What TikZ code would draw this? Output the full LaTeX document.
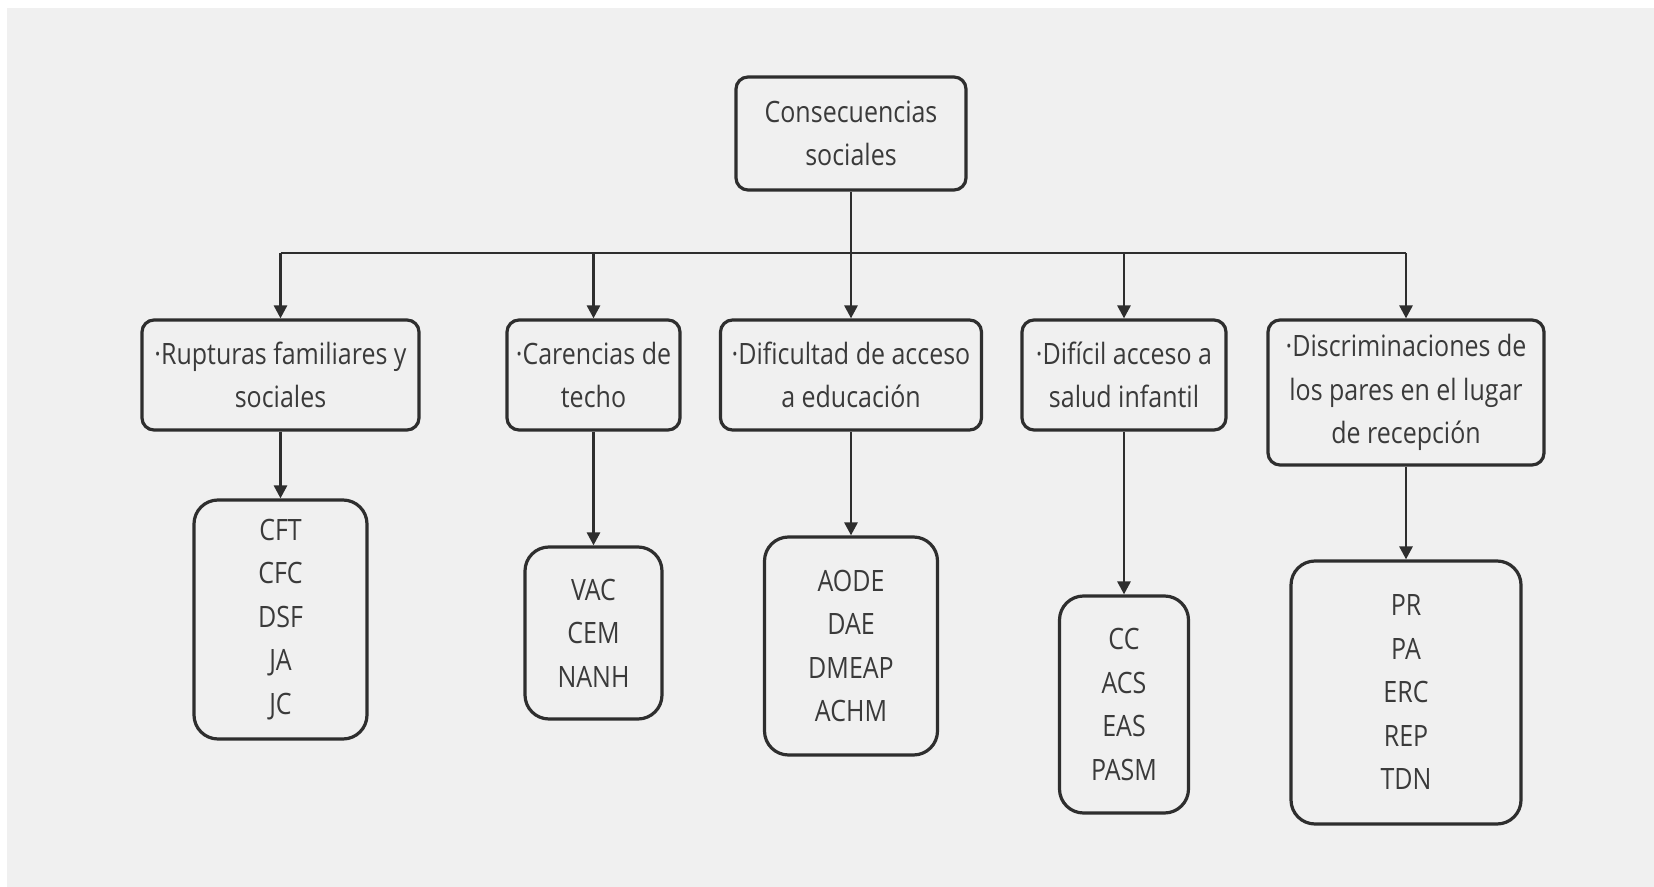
\documentclass[tikz,border=0pt]{standalone}
\usepackage{fontspec}
\setmainfont{Open Sans}[FakeStretch=0.85]
\usetikzlibrary{arrows.meta}
\definecolor{bg}{HTML}{F0F0F0}
\definecolor{ln}{HTML}{2E2E2E}
\definecolor{tx}{HTML}{3A3A3A}
\tikzset{
  box/.style={draw=ln, line width=1.6pt, rounded corners=6pt, text=tx, align=center,
    font=\fontsize{14.7pt}{21.75pt}\selectfont, inner sep=0pt},
  listbox/.style={box, rounded corners=12pt},
  conn/.style={draw=ln, line width=1.4pt},
  arr/.style={conn, -{Triangle[width=6.5pt,length=6.5pt]}}
}
\begin{document}
\begin{tikzpicture}[x=0.5pt,y=-0.5pt]
\useasboundingbox (0,0) rectangle (1654,887);
\fill[white] (0,0) rectangle (1654,887);
\fill[bg] (7,8) rectangle (1654,887);
% root
\node[box, minimum width=115pt, minimum height=56.5pt] (root) at (851,133.5) {Consecuencias\\sociales};
% level 2
\node[box, minimum width=138.5pt, minimum height=55pt] (b1) at (280.5,375) {·Rupturas familiares y\\sociales};
\node[box, minimum width=86.5pt, minimum height=55pt] (b2) at (593.5,375) {·Carencias de\\techo};
\node[box, minimum width=130.5pt, minimum height=55pt] (b3) at (851,375) {·Dificultad de acceso\\a educación};
\node[box, minimum width=102pt, minimum height=55pt] (b4) at (1124,375) {·Difícil acceso a\\salud infantil};
\node[box, minimum width=138pt, minimum height=72.5pt] (b5) at (1406,392.5) {·Discriminaciones de\\los pares en el lugar\\de recepción};
% level 3
\node[listbox, minimum width=86.5pt, minimum height=119.5pt] (c1) at (280.5,619.5) {CFT\\CFC\\DSF\\JA\\JC};
\node[listbox, minimum width=68.5pt, minimum height=86pt] (c2) at (593.5,633) {VAC\\CEM\\NANH};
\node[listbox, minimum width=86.5pt, minimum height=109pt] (c3) at (851,646) {AODE\\DAE\\DMEAP\\ACHM};
\node[listbox, minimum width=64.5pt, minimum height=108.5pt] (c4) at (1124,704.5) {CC\\ACS\\EAS\\PASM};
\node[listbox, minimum width=115pt, minimum height=131.5pt] (c5) at (1406,692.5) {PR\\PA\\ERC\\REP\\TDN};
% connectors
\coordinate (barL) at (280.5,253);
\coordinate (barR) at (1406,253);
\draw[conn] (barL) -- (barR);
\draw[arr] (root.south) -- (b3.north);
\foreach \b in {b1,b2,b4,b5}{
  \draw[arr] (\b.north |- barL) -- (\b.north);
}
\foreach \i in {1,...,5}{
  \draw[arr] (b\i.south) -- (c\i.north);
}
\end{tikzpicture}
\end{document}
